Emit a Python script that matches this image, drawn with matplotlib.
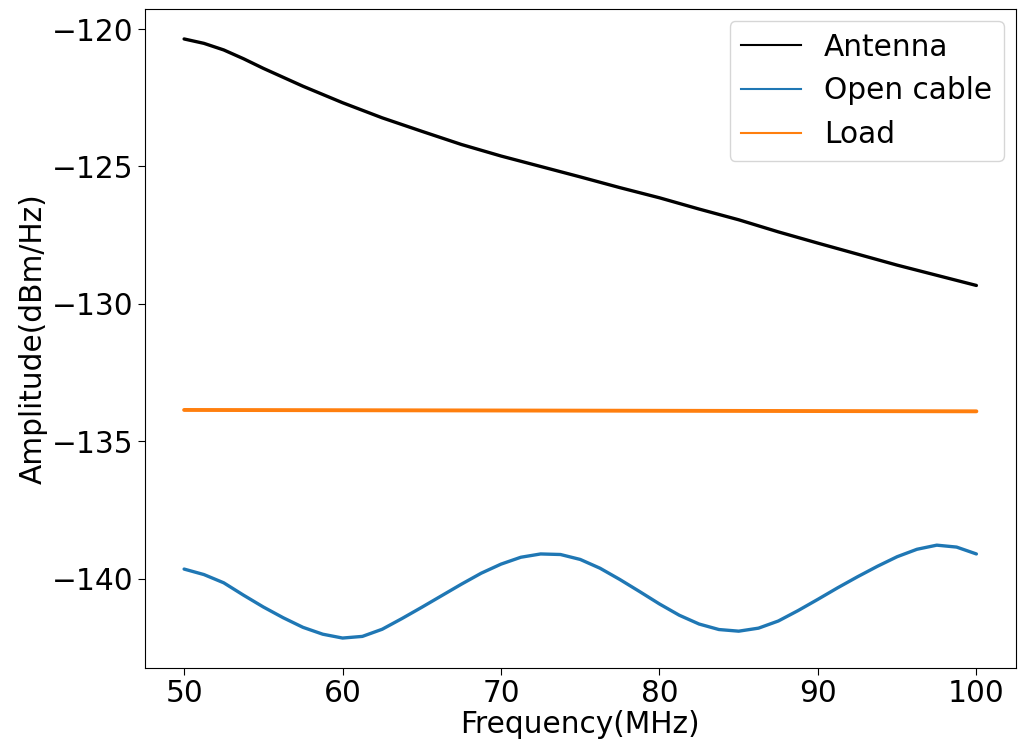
import matplotlib
matplotlib.use("Agg")
import matplotlib.pyplot as plt
from matplotlib.lines import Line2D

# Measured spectra, 50-100 MHz
freq_antenna = [50, 51.25, 52.5, 53.75, 55, 57.5, 60, 62.5, 65, 67.5, 70, 72.5, 75,
                77.5, 80, 82.5, 85, 87.5, 90, 92.5, 95, 97.5, 100]
amp_antenna = [-120.36, -120.52, -120.76, -121.08, -121.43, -122.08, -122.68,
               -123.23, -123.72, -124.20, -124.62, -125.00, -125.38, -125.77,
               -126.14, -126.55, -126.94, -127.38, -127.79, -128.19, -128.59,
               -128.96, -129.33]

freq_open = [50.00, 51.25, 52.50, 53.75, 55.00, 56.25, 57.50, 58.75, 60.00,
             61.25, 62.50, 63.75, 65.00, 66.25, 67.50, 68.75, 70.00, 71.25,
             72.50, 73.75, 75.00, 76.25, 77.50, 78.75, 80.00, 81.25, 82.50,
             83.75, 85.00, 86.25, 87.50, 88.75, 90.00, 91.25, 92.50, 93.75,
             95.00, 96.25, 97.50, 98.75, 100.00]
amp_open = [-139.65, -139.85, -140.15, -140.60, -141.03, -141.42, -141.77,
            -142.02, -142.16, -142.10, -141.84, -141.45, -141.04, -140.62,
            -140.20, -139.80, -139.47, -139.22, -139.10, -139.12, -139.30,
            -139.62, -140.03, -140.47, -140.92, -141.33, -141.65, -141.85,
            -141.91, -141.80, -141.54, -141.16, -140.75, -140.33, -139.93,
            -139.55, -139.20, -138.93, -138.78, -138.85, -139.10]

freq_load = [50, 60, 70, 80, 90, 100]
amp_load = [-133.86, -133.87, -133.88, -133.89, -133.90, -133.91]

FS = 21.3
plt.rcParams.update({
    "font.family": "DejaVu Sans", "font.size": FS,
    "xtick.major.size": 4.7, "ytick.major.size": 4.7,
})

fig = plt.figure(figsize=(10.22, 7.46), dpi=100)
ax = fig.add_axes([144.5 / 1022, 1 - 668 / 746, (1016 - 144.5) / 1022, (668 - 9) / 746])

ax.plot(freq_antenna, amp_antenna, color="black", lw=2.4, solid_capstyle="round")
ax.plot(freq_open, amp_open, color="#1f77b4", lw=2.4, solid_capstyle="round")
ax.plot(freq_load, amp_load, color="#ff7f0e", lw=2.8, solid_capstyle="round")

ax.set_xticks([50, 60, 70, 80, 90, 100])
ax.set_yticks([-140, -135, -130, -125, -120])
ax.set_xlabel("Frequency(MHz)", labelpad=1)
ax.set_ylabel("Amplitude(dBm/Hz)", labelpad=3)

handles = [
    Line2D([], [], color="black", lw=1.5),
    Line2D([], [], color="#1f77b4", lw=1.5),
    Line2D([], [], color="#ff7f0e", lw=1.5),
]
ax.legend(handles, ["Antenna", "Open cable", "Load"], loc="upper right",
          fontsize=FS, borderaxespad=0.4)

fig.savefig("out.png", dpi=100)
